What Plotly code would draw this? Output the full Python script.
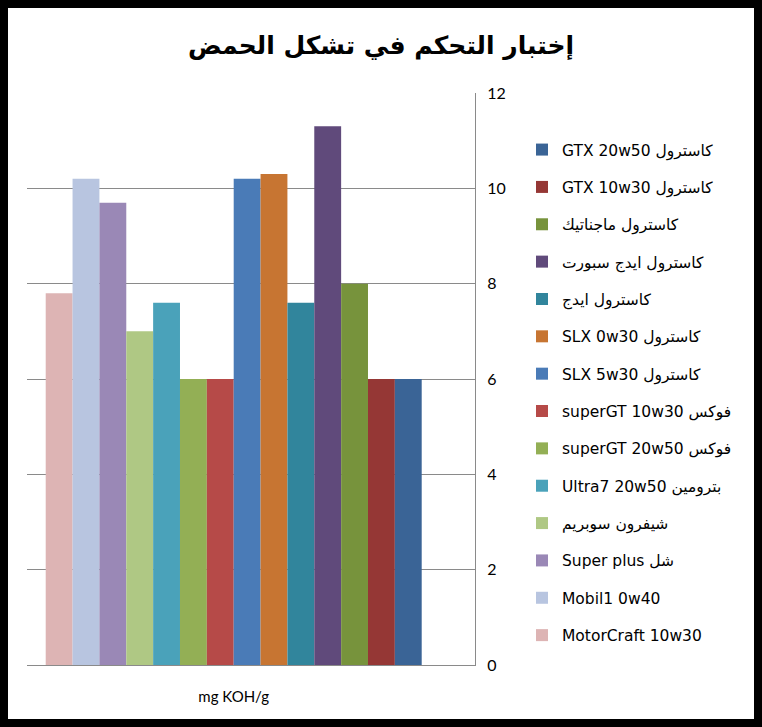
import plotly.graph_objects as go

# Data (legend order, top to bottom)
category = ["mg KOH/g"]
oils = [
    "GTX 20w50 كاسترول",
    "GTX 10w30 كاسترول",
    "كاسترول ماجناتيك",
    "كاسترول ايدج سبورت",
    "كاسترول ايدج",
    "SLX 0w30 كاسترول",
    "SLX 5w30 كاسترول",
    "superGT 10w30 فوكس",
    "superGT 20w50 فوكس",
    "Ultra7 20w50 بترومين",
    "شيفرون سوبريم",
    "Super plus شل",
    "Mobil1 0w40",
    "MotorCraft 10w30",
]
values = [6.0, 6.0, 8.0, 11.3, 7.6, 10.3, 10.2, 6.0, 6.0, 7.6, 7.0, 9.7, 10.2, 7.8]
colors = [
    "#3A6496", "#953735", "#77933C", "#604A7B", "#31859C", "#C77532", "#4A7BB7",
    "#B64A48", "#93AF55", "#4AA2BA", "#AFC884", "#9A88B6", "#B8C5E0", "#DDB4B4",
]
y_ticks = [0, 2, 4, 6, 8, 10, 12]

fig = go.Figure()

# bars are drawn right-to-left in the original, so add them reversed
items = list(enumerate(zip(oils, values, colors)))
for rank, (name, val, col) in reversed(items):
    fig.add_trace(go.Bar(
        x=category,
        y=[val],
        name=name,
        legendgroup=name,
        legendrank=rank + 1,
        marker=dict(color=col, line=dict(width=0)),
    ))

W, H = 762, 727
ml, mr, mt, mb = 27, 287, 93, 62
pw, ph = W - ml - mr, H - mt - mb

def px_x(p):
    return (p - ml) / pw

def px_y(p):
    return (H - mb - p) / ph

# black outer frame
fig.add_shape(
    type="rect", xref="paper", yref="paper",
    x0=px_x(4), x1=px_x(758), y0=px_y(723), y1=px_y(4),
    line=dict(color="black", width=8), fillcolor="rgba(0,0,0,0)", layer="above",
)

fig.update_layout(
    width=W, height=H,
    margin=dict(l=ml, r=mr, t=mt, b=mb),
    paper_bgcolor="white",
    plot_bgcolor="white",
    barmode="group",
    bargap=0.2,
    bargroupgap=0,
    title=dict(
        text="<b>إختبار التحكم في تشكل الحمض</b>",
        x=0.5, xref="container", xanchor="center",
        y=1 - 45 / H, yref="container", yanchor="middle",
        font=dict(family="DejaVu Sans", size=25, color="black"),
    ),
    legend=dict(
        x=px_x(522), y=px_y(133), xanchor="left", yanchor="top",
        traceorder="grouped",
        tracegroupgap=14.2,
        font=dict(family="DejaVu Sans", size=15.5, color="black"),
        itemwidth=30,
        bgcolor="rgba(0,0,0,0)",
    ),
    showlegend=True,
)

fig.update_xaxes(
    type="category",
    range=[-0.4398, 0.5134],
    showgrid=False,
    showline=True, linecolor="#8A8A8A", linewidth=1,
    ticks="",
    ticklabelstandoff=18,
    tickfont=dict(family="Lato", size=15, color="black"),
)

fig.update_yaxes(
    side="right",
    range=[0, 12],
    tickvals=y_ticks,
    showgrid=True, gridcolor="#8A8A8A", gridwidth=1,
    showline=True, linecolor="#8A8A8A", linewidth=1,
    zeroline=False,
    ticks="",
    ticklabelstandoff=8,
    tickfont=dict(family="Lato", size=16, color="black"),
)

# drop the default page margin so the figure fills the window exactly
fig.write_html(
    "out.html",
    config={"displayModeBar": False},
    post_script="document.body.style.margin='0';",
)
